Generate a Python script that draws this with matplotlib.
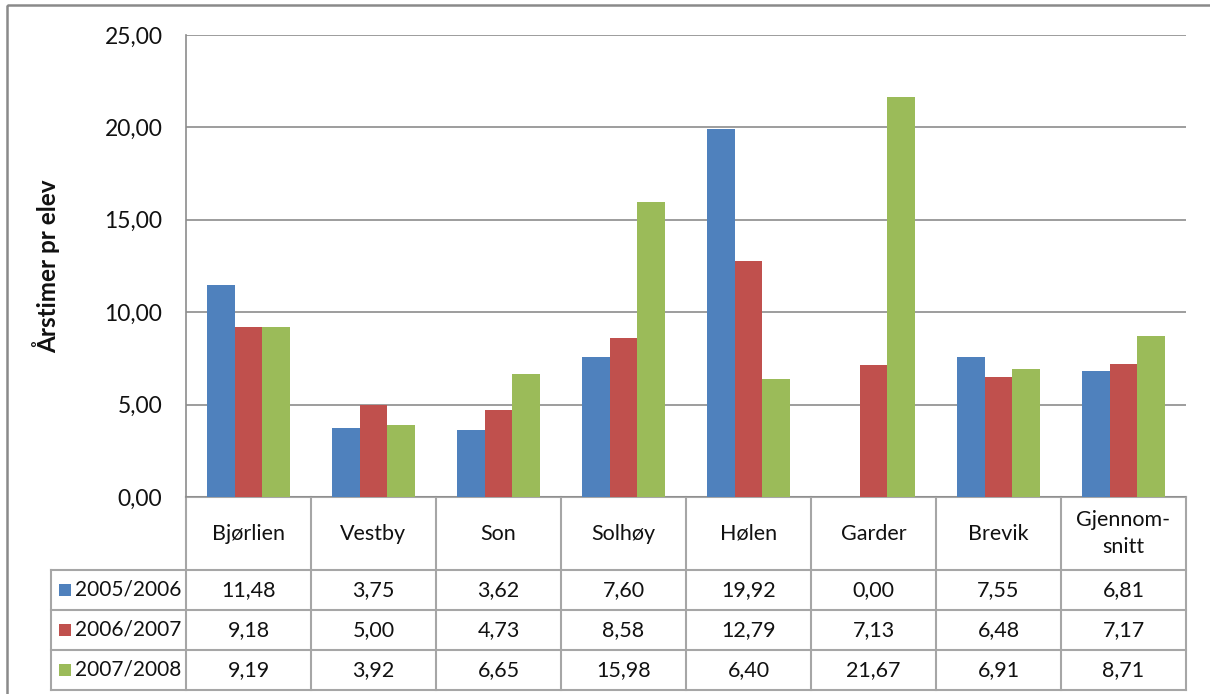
import numpy as np
import matplotlib.pyplot as plt
from matplotlib.patches import Rectangle

plt.rcParams['font.family'] = ['Lato', 'DejaVu Sans']

schools = ["Bjørlien", "Vestby", "Son", "Solhøy", "Hølen", "Garder", "Brevik", "Gjennom-\nsnitt"]
years = ["2005/2006", "2006/2007", "2007/2008"]
v0506 = [11.48, 3.75, 3.62, 7.60, 19.92, 0.00, 7.55, 6.81]
v0607 = [9.18, 5.00, 4.73, 8.58, 12.79, 7.13, 6.48, 7.17]
v0708 = [9.19, 3.92, 6.65, 15.98, 6.40, 21.67, 6.91, 8.71]
series = [v0506, v0607, v0708]
colors = ["#4F81BD", "#C0504D", "#9BBB59"]
yticks = [0, 5, 10, 15, 20, 25]

W, H = 1210, 694
fig = plt.figure(figsize=(W / 100, H / 100), dpi=100)

# pixel layout
pl, pr, pt, pb = 186, 1186, 35, 497
colw = (pr - pl) / len(schools)
grid_c = "#8c8c8c"
tab_c = "#a6a6a6"
txt_c = "#111111"
fs = 15.5

# background axes for frame + data table (x in category units, y in pixels)
bg = fig.add_axes([0, 0, 1, 1], zorder=0)
bg.set_xlim(-pl / colw - 0.5, (W - pl) / colw - 0.5)
bg.set_ylim(H, 0)
bg.axis("off")
bg.add_patch(Rectangle((bg.get_xlim()[0] + 7 / colw, 5), 1300 / colw, 800,
                       fill=False, edgecolor="#8a8a8a", lw=1.8))

ax = fig.add_axes([pl / W, 1 - pb / H, (pr - pl) / W, (pb - pt) / H], zorder=2)
ax.set_facecolor("none")
x = np.arange(len(schools))
bw = 0.22
for k, (vals, c) in enumerate(zip(series, colors)):
    ax.bar(x + (k - 1) * bw, vals, width=bw, color=c, zorder=3)
ax.set_xlim(-0.5, len(schools) - 0.5)
ax.set_ylim(0, 25)
ax.set_yticks(yticks)
ax.set_yticklabels([f"{t:.2f}".replace(".", ",") for t in yticks], fontsize=16.5, color=txt_c)
ax.set_xticks([])
ax.yaxis.grid(True, color=grid_c, lw=1.2)
ax.set_axisbelow(True)
for s in ["top", "right", "bottom"]:
    ax.spines[s].set_visible(False)
ax.spines["left"].set_color(grid_c)
ax.spines["left"].set_linewidth(1.2)
ax.tick_params(axis="y", length=0, pad=17)
ax.set_ylabel("Årstimer pr elev", fontsize=17.5, fontweight="bold", color=txt_c)
ax.yaxis.set_label_coords(-0.126, 0.5)

# data table
row_y = [497, 570, 610, 650, 690]
leg_left = -pl / colw - 0.5 + 51 / colw
xl, xr = -0.5, len(schools) - 0.5
bg.plot([xl, xr], [row_y[0], row_y[0]], color=tab_c, lw=1.5)
for yy in row_y[1:]:
    bg.plot([leg_left, xr], [yy, yy], color=tab_c, lw=1.5)
for i in range(len(schools) + 1):
    bg.plot([i - 0.5, i - 0.5], [row_y[0], row_y[-1]], color=tab_c, lw=1.5)
bg.plot([leg_left, leg_left], [row_y[1], row_y[-1]], color=tab_c, lw=1.5)

for i, name in enumerate(schools):
    bg.text(i, (row_y[0] + row_y[1]) / 2, name, ha="center", va="center",
            fontsize=fs, color=txt_c, linespacing=1.45)
for r, (vals, c, yr) in enumerate(zip(series, colors, years)):
    yc = (row_y[r + 1] + row_y[r + 2]) / 2
    for i, v in enumerate(vals):
        bg.text(i, yc, f"{v:.2f}".replace(".", ","), ha="center", va="center",
                fontsize=fs, color=txt_c)
    bg.add_patch(Rectangle((leg_left + 8 / colw, yc - 6), 12 / colw, 12, color=c, lw=0))
    bg.text(leg_left + 24 / colw, yc, yr, ha="left", va="center", fontsize=15, color=txt_c)

fig.savefig("out.png", dpi=100)
